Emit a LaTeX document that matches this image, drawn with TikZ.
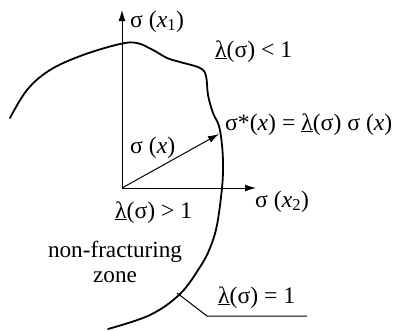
\documentclass[tikz,border=0pt]{standalone}
\usepackage{fontspec}
\setmainfont{Liberation Serif}
\usetikzlibrary{arrows.meta}
\newcommand{\lam}{\underline{λ}}
\begin{document}
\begin{tikzpicture}[x=1pt,y=-1pt,
  lbl/.style={font=\fontsize{23.7}{26}\selectfont, inner sep=0pt, anchor=base west},
  axis/.style={line width=1pt, -{Latex[length=11pt,width=7pt]}},
  curve/.style={line width=1.8pt, line cap=round},
  leader/.style={line width=1pt}]
\useasboundingbox (0,0) rectangle (399,330);
% yield curve
\draw[curve] plot[smooth, tension=0.6] coordinates {
 (10,118) (27,90) (50,70) (83,55) (120,44) (137,43) (153,50) (167,58)
 (180,62) (200,68) (206,76) (208,95) (213,113) (219,126) (222,145)
 (223,165) (222,188) (217,225) (210,248) (200,267) (180,294) (150,315) (108,329)};
% axes
\coordinate (O) at (122,188);
\coordinate (X1) at (122,10);
\coordinate (X2) at (256,188);
\draw[axis] (O) -- (X1);
\draw[axis] (O) -- (X2);
% vector
\coordinate (S) at (219,134);
\draw[axis] (O) -- (S);
% leader
\coordinate (L0) at (177,293);
\coordinate (L1) at (207,316);
\coordinate (L2) at (307,316);
\draw[leader] (L0) -- (L1) -- (L2);
% labels
\node[lbl] (t1) at (130,27) {σ (\textit{x}\textsubscript{1})};
\node[lbl] (t2) at (255,207) {σ (\textit{x}\textsubscript{2})};
\node[lbl] (lt) at (215,57) {\lam(σ) < 1};
\node[lbl] (sx) at (130,153) {σ (\textit{x})};
\node[lbl] (ss) at (225,130) {σ*(\textit{x}) = \lam(σ) σ (\textit{x})};
\node[lbl] (gt) at (115,218) {\lam(σ) > 1};
\node[font=\fontsize{23.2}{25}\selectfont, inner sep=0pt, align=center, anchor=base] (nf) at (115,282) {non-fracturing\\zone};
\node[lbl] (eq) at (218,303) {\lam(σ) = 1};
\end{tikzpicture}
\end{document}
